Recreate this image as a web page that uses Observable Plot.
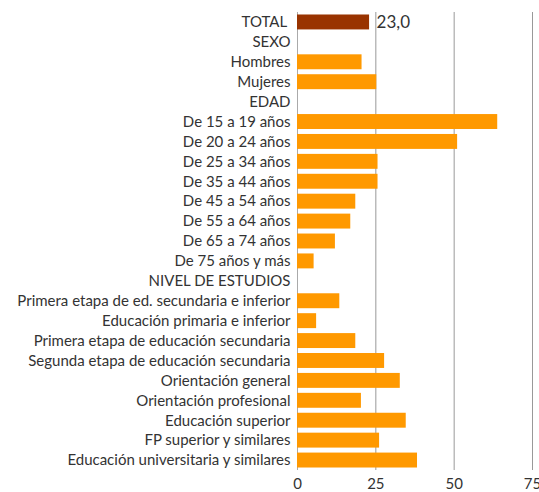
<!DOCTYPE html>
<html><head><meta charset="utf-8">
<script src="https://cdn.jsdelivr.net/npm/d3@7"></script>
<script src="https://cdn.jsdelivr.net/npm/@observablehq/plot@0.6"></script>
<style>body{margin:0;background:#fff;}</style>
</head><body><div id="chart"></div>
<script>
const categories = [
  "TOTAL\u00a0", "SEXO", "Hombres", "Mujeres", "EDAD",
  "De 15 a 19 años", "De 20 a 24 años", "De 25 a 34 años", "De 35 a 44 años",
  "De 45 a 54 años", "De 55 a 64 años", "De 65 a 74 años", "De 75 años y más",
  "NIVEL DE ESTUDIOS",
  "Primera etapa de ed. secundaria e inferior", "Educación primaria e inferior",
  "Primera etapa de educación secundaria", "Segunda etapa de educación secundaria",
  "Orientación general", "Orientación profesional", "Educación superior",
  "FP superior y similares", "Educación universitaria y similares"
];
const values = [
  23.0, null, 20.6, 25.3, null,
  63.9, 51.1, 25.7, 25.7,
  18.6, 17.0, 12.1, 5.3,
  null,
  13.5, 6.1,
  18.6, 27.8,
  32.8, 20.4, 34.7,
  26.2, 38.3
];
const highlight = "TOTAL\u00a0";
const xTicks = [0, 25, 50, 75];
const xDomain = [0, 75];

const data = categories.map((c, i) => ({cat: c, value: values[i]}));
const fmt = v => d3.format(".1f")(v).replace(".", ",");

const chart = Plot.plot({
  width: 539, height: 492,
  marginLeft: 297, marginRight: 7, marginTop: 12, marginBottom: 22,
  style: {fontFamily: "Lato, sans-serif", fontSize: "15px", color: "#333", background: "#fff"},
  x: {domain: xDomain, label: null},
  y: {domain: categories, label: null, paddingInner: 0.25, paddingOuter: 0.125, round: false},
  marks: [
    Plot.gridX(xTicks.slice(1), {stroke: "#999", strokeOpacity: 1}),
    Plot.ruleX([0], {stroke: "#aaa"}),
    Plot.barX(data.filter(d => d.value != null), {
      x: "value", y: "cat",
      fill: d => d.cat === highlight ? "#993300" : "#ff9900"
    }),
    Plot.text(data.filter(d => d.cat === highlight), {
      x: "value", y: "cat", text: d => fmt(d.value),
      dx: 7, textAnchor: "start", fontSize: 17, fill: "#333"
    }),
    Plot.axisY({tickSize: 0, tickPadding: 7, fontSize: 15, label: null}),
    Plot.axisX(xTicks, {tickSize: 0, tickPadding: 8, fontSize: 15, label: null})
  ]
});
document.getElementById("chart").append(chart);
</script>
</body></html>
